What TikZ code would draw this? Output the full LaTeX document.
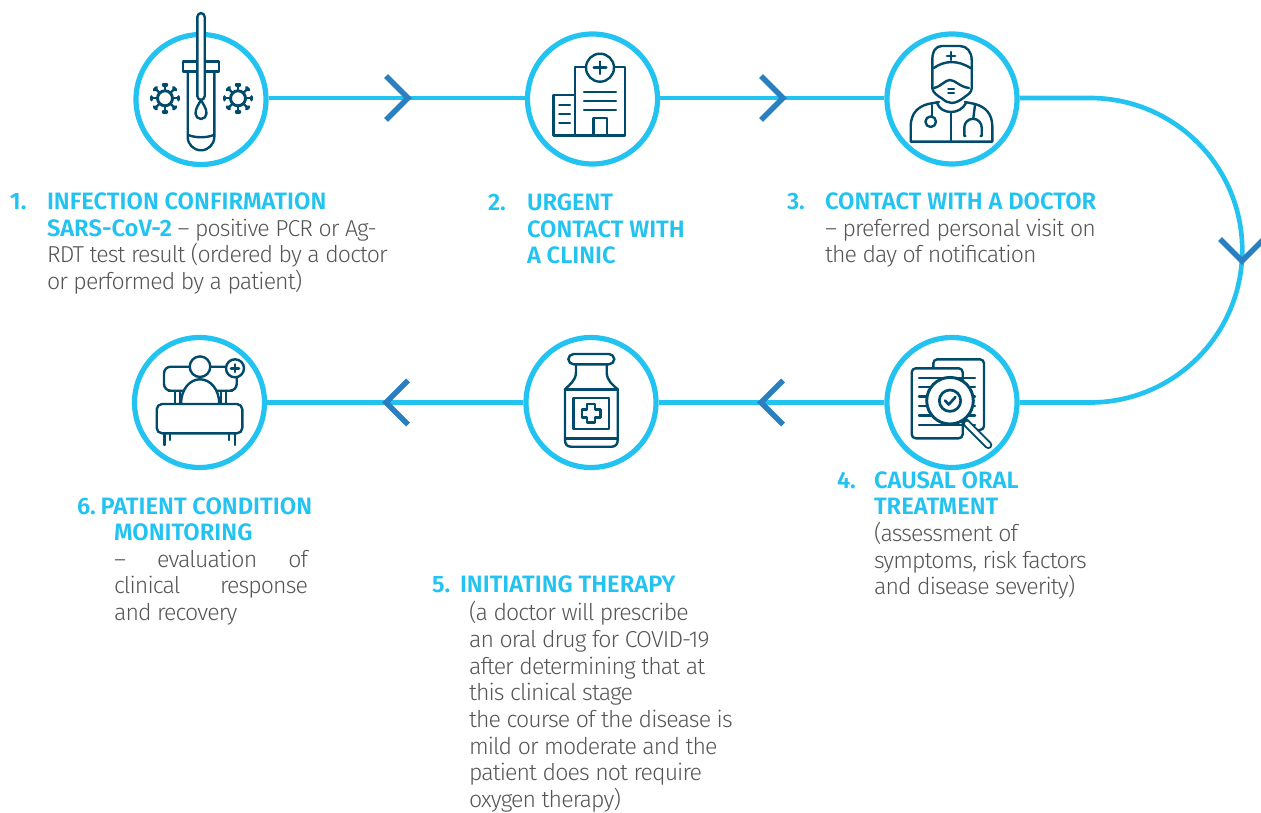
\documentclass[tikz,border=0pt]{standalone}
\usepackage{fontspec}
\setmainfont{Fira Sans Light}[LetterSpace=-3.8,BoldFont={Fira Sans SemiBold},BoldFeatures={LetterSpace=0}]
\definecolor{cy}{HTML}{22C3F0}
\definecolor{chev}{HTML}{2A7FC0}
\definecolor{ico}{HTML}{004B6B}
\definecolor{txt}{HTML}{555555}
\newcommand{\hd}[1]{{\fontsize{17.8}{20}\selectfont\textbf{\textcolor{cy}{#1}}}}
\tikzset{
  stepring/.style={circle,draw=cy,line width=3.9pt,fill=white,minimum size=97.5pt,inner sep=0pt},
  link/.style={draw=cy,line width=3.5pt},
  chevron/.style={draw=chev,line width=4pt,line join=miter},
  ic/.style={draw=ico,line width=1.8pt,line join=round,line cap=round},
  icw/.style={ic,fill=white},
  blk/.style={anchor=north west,inner sep=0pt,outer sep=0pt,align=left,text=txt,font=\fontsize{17.3}{20}\selectfont},
  virus/.pic={
    \draw[ic,line width=2.2pt] (0,0) circle (7.5);
    \foreach \a in {0,45,...,315}{
      \draw[ic,rotate=\a] (7.5,0) -- (13,0);
      \draw[ic,rotate=\a,line width=2.6pt] (13.5,-1.5) -- (13.5,1.5);
    }
  }
}
\begin{document}
\begin{tikzpicture}[x=0.75pt,y=-0.75pt]
\useasboundingbox (0,0) rectangle (1261,813);
% step rings
\node[stepring] (c1) at (201,99.5) {};
\node[stepring] (c2) at (592.5,99) {};
\node[stepring] (c3) at (952,99) {};
\node[stepring] (c4) at (952,402.5) {};
\node[stepring] (c5) at (591,402.5) {};
\node[stepring] (c6) at (199.5,402.5) {};
\coordinate (r3) at (1090,98);
\coordinate (r4) at (1090,402.5);
\coordinate (l12a) at (c1.east |- r3);
\coordinate (l12b) at (c2.west |- r3);
\coordinate (l23a) at (c2.east |- r3);
\coordinate (l23b) at (c3.west |- r3);
\coordinate (l33) at (c3.east |- r3);
\coordinate (l44) at (c4.east |- r4);
\path[link] (l12a) -- (l12b);
\path[link] (l23a) -- (l23b);
\path[link] (l33) -- (r3) arc[start angle=-90,end angle=90,radius=152.25] -- (l44);
\path[link] (c4.west) -- (c5.east);
\path[link] (c5.west) -- (c6.east);
% chevrons
\coordinate (a1) at (408,98);
\coordinate (a2) at (783,98);
\coordinate (a3) at (1242,261);
\coordinate (a4) at (761,402.5);
\coordinate (a5) at (386,402.5);
\path[chevron] ([shift={(-22,-22)}]a1) -- (a1) -- ([shift={(-22,22)}]a1);
\path[chevron] ([shift={(-22,-22)}]a2) -- (a2) -- ([shift={(-22,22)}]a2);
\path[chevron] ([shift={(-22,-22)}]a3) -- (a3) -- ([shift={(22,-22)}]a3);
\path[chevron] ([shift={(22,-22)}]a4) -- (a4) -- ([shift={(22,22)}]a4);
\path[chevron] ([shift={(22,-22)}]a5) -- (a5) -- ([shift={(22,22)}]a5);
% icon 1: test tube
\path[icw] (187.7,71.7) -- (187.7,137) arc[start angle=180,end angle=0,radius=13.3] -- (214.3,71.7) -- cycle;
\path[ic] (188,135) .. controls (196,138) and (206,138) .. (214,135);
\path[icw] (182.7,61.7) rectangle (219,71.7);
\path[icw,rounded corners=3pt] (197.3,100) -- (197.3,13) -- (204.7,13) -- (204.7,100) -- cycle;
\path[icw] (201,100) .. controls (203,104) and (206.5,108) .. (206.5,113.5) arc[start angle=0,end angle=180,radius=5.5] .. controls (195.5,108) and (199,104) .. (201,100) -- cycle;
\pic at (165,98.3) {virus};
\pic at (238,98.3) {virus};
% icon 2: hospital
\path[ic] (553.3,95) rectangle (575,135.7);
\path[ic] (575,67.3) rectangle (625,135.7);
\path[icw] (600,67.7) circle (14);
\path[ic] (600,61.5) -- (600,74) (593.7,67.7) -- (606.3,67.7);
\foreach \yy in {92.3,101.3,110.3} \path[ic] (584,\yy) -- (616,\yy);
\foreach \yy in {105,114,123} \path[ic] (559.3,\yy) -- (570,\yy);
\path[ic] (593.3,135.7) -- (593.3,118.3) -- (606.7,118.3) -- (606.7,135.7);
% icon 3: doctor
\path[ic] (932.3,68) -- (932.3,88.3) .. controls (933,93) and (938,96) .. (941.7,98.3) .. controls (945,101) and (948,103) .. (951.7,103) .. controls (956,103) and (961,100) .. (965,96.7) .. controls (969,94) and (971.5,92) .. (971.7,88.3) -- (971.7,60) .. controls (971.7,52) and (967,46) .. (960,46) -- (942,46) .. controls (936,46) and (932.3,51) .. (932.3,60) -- cycle;
\path[ic] (933.3,68.3) .. controls (945,60) and (958,60) .. (971,68.3);
\path[ic,line width=2.2pt] (951,52) -- (951,60) (947,56) -- (955,56);
\path[ic] (934,88) .. controls (942,86) and (945,80) .. (950,80) .. controls (955,80) and (960,87) .. (969,88);
\path[ic] (948.3,89) -- (954,89) (948.3,93.3) -- (954,93.3);
\path[ic] (939,102) -- (928,104) .. controls (917,107) and (911,114) .. (910.7,126) -- (910.7,141.7) -- (992.3,141.7) -- (992.3,126) .. controls (992,113) and (985,107) .. (975,104) -- (965,102);
\path[ic] (937,103) .. controls (939,109) and (945,112) .. (951,112) .. controls (957,112) and (963,109) .. (966,103);
\path[ic] (951,112) -- (951,141.7);
\path[ic] (931.7,105) -- (931.7,116.5);
\path[ic] (930.7,121.7) circle (5.3);
\path[ic] (975,105) -- (973.3,118.3);
\path[ic] (965.5,136) -- (964.3,136) -- (964.3,127.5) arc[start angle=180,end angle=360,radius=8.7] -- (981.7,136) -- (980.5,136);
% icon 4: documents and lens
\path[ic,rounded corners=3pt] (933.3,368) -- (933.3,359.3) -- (984,359.3) -- (984,430) -- (975,430);
\path[icw,rounded corners=3pt] (911.7,368.3) rectangle (962.7,438.3);
\foreach \yy in {377.7,387,396.3,406,415.3,425} \path[ic] (919,\yy) -- (975,\yy);
\path[icw,line width=6pt,draw=ico] (965,421.7) -- (988.3,445);
\path[ic,draw=white,line width=3pt] (967,423.7) -- (988.3,445);
\path[icw,line width=2.2pt] (950,400.7) circle (23.3);
\path[ic,line width=2pt] (950,400.7) circle (10.7);
\path[ic,line width=2pt] (945,400.5) -- (948.7,404.5) -- (955.5,397);
% icon 5: bottle
\path[ic,rounded corners=4pt] (568.3,354) rectangle (614.3,364.3);
\path[ic] (576,364.3) -- (576,372) .. controls (576,381) and (569,385) .. (565,389.3) -- (565,440) .. controls (565,444) and (567,446.7) .. (571,446.7) -- (611.7,446.7) .. controls (615.7,446.7) and (617.7,444) .. (617.7,440) -- (617.7,389.3) .. controls (613,385) and (606.7,381) .. (606.7,372) -- (606.7,364.3);
\path[ic] (565,389.3) -- (617.7,389.3);
\path[ic] (565,438.3) -- (617.7,438.3);
\path[ic] (573.3,397.7) rectangle (609,429);
\path[ic] (587,404) -- (595,404) -- (595,409.3) -- (600.3,409.3) -- (600.3,417.3) -- (595,417.3) -- (595,422.6) -- (587,422.6) -- (587,417.3) -- (581.7,417.3) -- (581.7,409.3) -- (587,409.3) -- cycle;
% icon 6: bed
\path[ic,rounded corners=5pt] (175,390.7) -- (164,390.7) -- (164,366.7) -- (236.7,366.7) -- (236.7,390.7) -- (225.7,390.7) -- cycle;
\path[ic] (175,390.7) -- (175,404) (180,390.7) -- (180,404) (220.7,390.7) -- (220.7,404) (225.7,390.7) -- (225.7,404);
\path[icw] (181,404) .. controls (181,389) and (190,379.3) .. (200,379.3) .. controls (210,379.3) and (219.3,389) .. (219.3,404);
\path[icw] (200,366.7) circle (10.3);
\path[icw] (235,368.3) circle (9);
\path[ic,line width=2.2pt] (235,364.5) -- (235,372) (231.2,368.3) -- (238.8,368.3);
\path[icw,rounded corners=4pt] (156.7,404) rectangle (242.3,433.3);
\path[ic] (164.3,433.3) -- (164.3,445) (170,433.3) -- (170,440) (229,433.3) -- (229,440) (235,433.3) -- (235,445);
% texts
\node[blk] (n1) at (10,190.8) {\strut\hd{1.}};
\node[blk] (t1) at (47,190.8) {\strut\hd{INFECTION CONFIRMATION}\\\hd{SARS-CoV-2} – positive PCR or Ag-\\RDT test result (ordered by a doctor\\or performed by a patient)};
\node[blk] (n2) at (488,191.8) {\strut\hd{2.}};
\node[blk] (t2) at (527,191.8) {\strut\hd{URGENT}\\\hd{CONTACT WITH}\\\hd{A CLINIC}};
\node[blk] (n3) at (787,190.8) {\strut\hd{3.}};
\node[blk] (t3) at (825,190.8) {\strut\hd{CONTACT WITH A DOCTOR}\\– preferred personal visit on\\the day of notification};
\node[blk] (n4) at (837,469.5) {\strut\hd{4.}};
\node[blk] (t4) at (874,469.5) {\strut\hd{CAUSAL ORAL}\\\hd{TREATMENT}\\(assessment of\\symptoms, risk factors\\and disease severity)};
\node[blk] (n5) at (432,573.5) {\strut\hd{5.}};
\node[blk] (h5) at (460,573.5) {\strut\hd{INITIATING THERAPY}};
\node[blk] (t5) at (469,601.5) {\strut(a doctor will prescribe\\an oral drug for COVID-19\\after determining that at\\this clinical stage\\the course of the disease is\\mild or moderate and the\\patient does not require\\oxygen therapy)};
\node[blk] (h6) at (77,495.5) {\strut\hd{6.\hspace{-2.2pt} PATIENT CONDITION}};
\node[blk] (t6) at (114,521.7) {\strut\hd{MONITORING}\\\makebox[145.5pt][s]{–\hfill evaluation\hfill of}\\\makebox[145.5pt][s]{clinical\hfill response}\\and recovery};
\end{tikzpicture}
\end{document}
